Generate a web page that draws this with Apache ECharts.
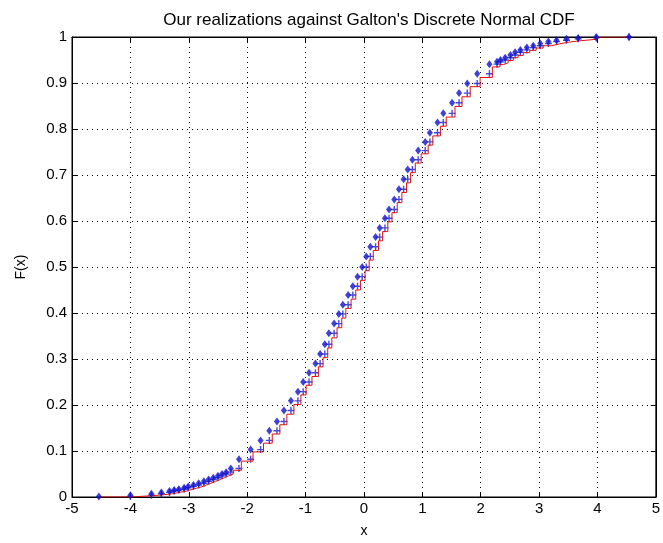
<!DOCTYPE html>
<html>
<head>
<meta charset="utf-8">
<script src="https://cdn.jsdelivr.net/npm/echarts@6/dist/echarts.min.js"></script>
<style>
  html, body { margin: 0; padding: 0; background: #fff; }
  #chart { width: 663px; height: 543px; }
</style>
</head>
<body>
<div id="chart"></div>
<script>
// realizations (blue diamonds)
const blueX = [-4.54, -4.00, -3.64, -3.47, -3.33, -3.25, -3.17, -3.08, -3.01, -2.92, -2.83, -2.74, -2.66, -2.58,
  -2.50, -2.43, -2.36, -2.28, -2.14, -1.94, -1.77, -1.62, -1.49, -1.37, -1.25, -1.13, -1.04, -0.94, -0.83,
  -0.75, -0.67, -0.60, -0.51, -0.43, -0.36, -0.27, -0.19, -0.11, -0.03, 0.04, 0.11, 0.20, 0.27, 0.36, 0.43,
  0.52, 0.60, 0.68, 0.75, 0.83, 0.93, 1.05, 1.13, 1.26, 1.36, 1.51, 1.63, 1.77, 1.94, 2.15, 2.28, 2.34, 2.42,
  2.51, 2.59, 2.68, 2.79, 2.90, 3.02, 3.16, 3.30, 3.47, 3.67, 3.98, 4.54];
const blueF = [0.001, 0.004, 0.007, 0.010, 0.013, 0.015, 0.017, 0.020, 0.023, 0.026, 0.030, 0.034, 0.038, 0.042,
  0.046, 0.050, 0.054, 0.062, 0.082, 0.103, 0.123, 0.144, 0.164, 0.188, 0.209, 0.229, 0.250, 0.270, 0.290,
  0.311, 0.332, 0.356, 0.377, 0.398, 0.418, 0.439, 0.458, 0.479, 0.500, 0.523, 0.544, 0.565, 0.585, 0.606, 0.625,
  0.647, 0.669, 0.691, 0.712, 0.733, 0.753, 0.772, 0.792, 0.814, 0.834, 0.857, 0.878, 0.899, 0.920, 0.941, 0.946,
  0.950, 0.955, 0.961, 0.967, 0.972, 0.977, 0.981, 0.986, 0.990, 0.993, 0.996, 0.998, 1.000, 1.000];

// Galton's discrete normal CDF (red stairs)
const redX = [-4.54, -4.00, -3.60, -3.42, -3.28, -3.20, -3.12, -3.03, -2.96, -2.87, -2.78, -2.70, -2.62, -2.54,
  -2.46, -2.39, -2.32, -2.24, -2.10, -1.90, -1.72, -1.57, -1.44, -1.32, -1.20, -1.08, -0.99, -0.89, -0.78,
  -0.70, -0.62, -0.55, -0.46, -0.38, -0.31, -0.22, -0.14, -0.06, 0.02, 0.09, 0.16, 0.25, 0.32, 0.41, 0.48,
  0.57, 0.65, 0.73, 0.80, 0.88, 0.98, 1.10, 1.18, 1.31, 1.41, 1.56, 1.68, 1.82, 1.99, 2.20, 2.33, 2.39, 2.47,
  2.56, 2.64, 2.73, 2.84, 2.95, 3.07, 3.21, 3.35, 3.52, 3.72, 3.98, 4.54];
const redF = [0.000, 0.003, 0.005, 0.007, 0.009, 0.011, 0.013, 0.016, 0.019, 0.022, 0.026, 0.030, 0.034, 0.038,
  0.042, 0.046, 0.050, 0.058, 0.078, 0.098, 0.117, 0.137, 0.157, 0.180, 0.201, 0.222, 0.243, 0.262, 0.283,
  0.303, 0.324, 0.346, 0.368, 0.389, 0.410, 0.430, 0.450, 0.471, 0.492, 0.515, 0.536, 0.557, 0.577, 0.598, 0.618,
  0.640, 0.662, 0.683, 0.705, 0.726, 0.746, 0.765, 0.785, 0.806, 0.826, 0.849, 0.870, 0.892, 0.912, 0.935, 0.940,
  0.944, 0.949, 0.955, 0.960, 0.966, 0.971, 0.976, 0.981, 0.985, 0.989, 0.992, 0.995, 1.000, 1.000];

const xTicks = [-5, 5, 1];
const yTicks = [0, 1, 0.1];

const blueData = blueX.map((x, i) => [x, blueF[i]]);
const redData = redX.map((x, i) => [x, redF[i]]);
// '+' markers sit at the right end of each blue level
const plusData = blueX.slice(1).map((x, i) => [x, blueF[i]]);

const font = 'Liberation Sans, Arial, sans-serif';
const labelStyle = { color: '#000', fontSize: 15, fontFamily: font };
const nameStyle = { color: '#000', fontSize: 14, fontFamily: font };
const dotted = { show: true, lineStyle: { color: '#000', type: [1, 4], width: 1 } };
const frameLine = { show: true, onZero: false, lineStyle: { color: '#000' } };
const inTick = { show: true, inside: true, length: 5, lineStyle: { color: '#000' } };

const chart = echarts.init(document.getElementById('chart'), null, { renderer: 'canvas' });
chart.setOption({
  backgroundColor: '#fff',
  animation: false,
  title: {
    text: "Our realizations against Galton's Discrete Normal CDF",
    left: 364, top: 7, textAlign: 'center',
    textStyle: { color: '#000', fontSize: 17, fontWeight: 'normal', fontFamily: font },
  },
  grid: { left: 72, right: 3, top: 37, bottom: 46, show: true, borderColor: '#000', borderWidth: 1 },
  xAxis: [{
    type: 'value', min: xTicks[0], max: xTicks[1], interval: xTicks[2],
    name: 'x', nameLocation: 'middle', nameGap: 27, nameTextStyle: nameStyle,
    axisLine: frameLine, axisTick: inTick,
    axisLabel: Object.assign({ margin: 4 }, labelStyle),
    splitLine: dotted,
  }, {
    type: 'value', position: 'top', min: xTicks[0], max: xTicks[1], interval: xTicks[2],
    axisLine: frameLine, axisTick: inTick,
    axisLabel: { show: false }, splitLine: { show: false },
  }],
  yAxis: [{
    type: 'value', min: yTicks[0], max: yTicks[1], interval: yTicks[2],
    name: 'F(x)', nameLocation: 'middle', nameGap: 44, nameTextStyle: nameStyle,
    axisLine: frameLine, axisTick: inTick,
    axisLabel: Object.assign({ margin: 5, formatter: (v) => String(+v.toFixed(1)) }, labelStyle),
    splitLine: dotted,
  }, {
    type: 'value', position: 'right', min: yTicks[0], max: yTicks[1], interval: yTicks[2],
    axisLine: frameLine, axisTick: inTick,
    axisLabel: { show: false }, splitLine: { show: false },
  }],
  series: [
    {
      name: 'plus', type: 'scatter', data: plusData,
      symbol: 'path://M4,0h2v4h4v2h-4v4h-2v-4h-4v-2h4z', symbolSize: 7,
      itemStyle: { color: '#1a1ad0' }, z: 3,
    },
    {
      name: 'Galton', type: 'line', step: 'end', data: redData,
      showSymbol: false, lineStyle: { color: '#e01010', width: 1 }, z: 4,
    },
    {
      name: 'realizations', type: 'scatter', data: blueData,
      symbol: 'diamond', symbolSize: [6, 8],
      itemStyle: { color: '#1212cc' }, z: 5,
    },
  ],
});
</script>
</body>
</html>
